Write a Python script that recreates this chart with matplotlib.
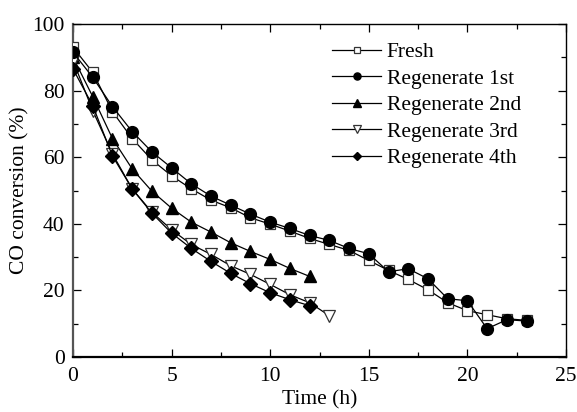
import matplotlib
matplotlib.use("Agg")
import matplotlib.pyplot as plt
from matplotlib.ticker import MultipleLocator

plt.rcParams['font.family'] = ['Liberation Serif', 'DejaVu Serif']
plt.rcParams['mathtext.fontset'] = 'stix'

t_fresh = list(range(0, 24))
fresh = [93, 85.5, 73.7, 65.6, 59.2, 54.4, 50.5, 47.1, 44.8, 41.8, 39.9, 37.8,
         35.6, 33.8, 32, 29, 26, 23.3, 20.2, 16.3, 13.9, 12.7, 11.5, 11]
t_r1 = list(range(0, 24))
regen1 = [91.5, 84, 75.2, 67.7, 61.6, 56.8, 52, 48.3, 45.6, 42.9, 40.5, 38.6,
          36.5, 35, 32.6, 31, 25.6, 26.5, 23.5, 17.5, 16.9, 8.5, 11.2, 10.8]
t_r2 = list(range(0, 13))
regen2 = [90, 78.2, 65.6, 56.5, 49.8, 44.7, 40.5, 37.5, 34.3, 31.7, 29.3, 26.6, 24.2]
t_r3 = list(range(0, 14))
regen3 = [89, 74, 61, 50.5, 43.5, 38.2, 33.8, 30.8, 27.4, 24.8, 21.8, 18.7, 16.3, 12.4]
t_r4 = list(range(0, 13))
regen4 = [86.5, 75.5, 60.4, 50.5, 43.2, 37.2, 32.6, 28.7, 25.1, 22, 19.3, 17.2, 15.4]

labels = ["Fresh", "Regenerate 1st", "Regenerate 2nd", "Regenerate 3rd", "Regenerate 4th"]

fig = plt.figure(figsize=(5.77, 4.12), dpi=100)
ax = fig.add_axes([73 / 577, 55 / 412, 493 / 577, 333 / 412])

lw = 0.9
ms = 8.5
ax.plot(t_fresh, fresh, '-', color='black', lw=lw, marker='s', ms=ms - 1,
        mfc='white', mec='#333333', mew=0.9, label=labels[0], zorder=3)
ax.plot(t_r1, regen1, '-', color='black', lw=lw, marker='o', ms=ms,
        mfc='black', mec='black', label=labels[1], zorder=4)
ax.plot(t_r2, regen2, '-', color='black', lw=lw, marker='^', ms=ms,
        mfc='black', mec='black', label=labels[2], zorder=3)
ax.plot(t_r3, regen3, '-', color='black', lw=lw, marker='v', ms=ms,
        mfc='white', mec='#333333', mew=0.9, label=labels[3], zorder=3)
ax.plot(t_r4, regen4, '-', color='black', lw=lw, marker='D', ms=ms - 1.5,
        mfc='black', mec='black', label=labels[4], zorder=4)

ax.set_xlim(0, 25)
ax.set_ylim(0, 100)
ax.xaxis.set_major_locator(MultipleLocator(5))
ax.xaxis.set_minor_locator(MultipleLocator(2.5))
ax.yaxis.set_major_locator(MultipleLocator(20))
ax.yaxis.set_minor_locator(MultipleLocator(10))
ax.tick_params(which='both', direction='in', top=True, right=True, labelsize=15.5,
               width=0.9, colors='black')
ax.tick_params(which='major', length=6)
ax.tick_params(which='minor', length=3.5)
ax.tick_params(axis='x', pad=7)
ax.tick_params(axis='y', pad=6)
for s in ax.spines.values():
    s.set_linewidth(1.0)
ax.spines['left'].set_linewidth(1.6)
ax.spines['left'].set_color('#555555')
ax.spines['bottom'].set_linewidth(1.6)

ax.set_xlabel("Time (h)", fontsize=15.5, labelpad=3)
ax.set_ylabel("CO conversion (%)", fontsize=15.5, labelpad=2)

leg = ax.legend(loc='upper left', bbox_to_anchor=(0.525, 0.945), frameon=False,
                fontsize=15.5, handlelength=2.3, handletextpad=0.25,
                labelspacing=0.3, markerscale=0.6, borderpad=0, borderaxespad=0)

fig.savefig("out.png", dpi=100)
